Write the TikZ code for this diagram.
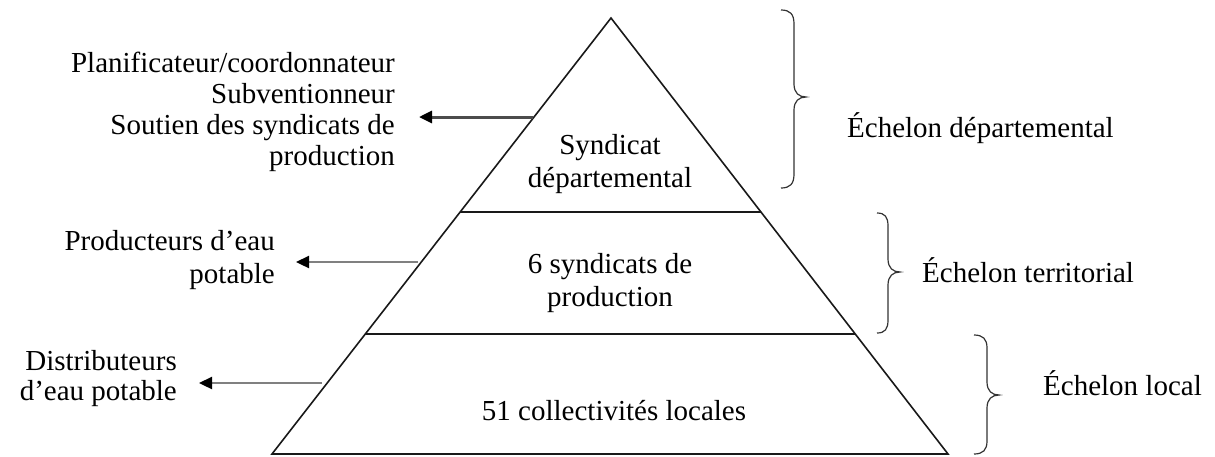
\documentclass[tikz,border=0pt]{standalone}
\usepackage{fontspec}
\setmainfont{Liberation Serif}
\usetikzlibrary{arrows.meta}
\begin{document}
\begin{tikzpicture}[x=1pt,y=-1pt,
  lbl/.style={font=\fontsize{29}{33}\selectfont, inner sep=0pt, text=black},
  pyr/.style={line width=1.6pt, black!90},
  arrthick/.style={line width=3pt, draw=black!70, -{Triangle[length=13pt,width=12pt,color=black]}},
  arrthin/.style={line width=2.3pt, draw=black!50, -{Triangle[length=13pt,width=12pt,color=black]}},
  brc/.style={line width=1.2pt, black!80}]
\useasboundingbox[fill=white] (0,0) rectangle (1215,456);
% pyramid
\coordinate (apex) at (611,18);
\coordinate (bl) at (272,454);
\coordinate (br) at (948,454);
\coordinate (l1) at (460,212);
\coordinate (r1) at (761,212);
\coordinate (l2) at (365,334);
\coordinate (r2) at (855,334);
\draw[pyr] (bl) -- (apex) -- (br) -- cycle;
\draw[pyr] (l1) -- (r1);
\draw[pyr] (l2) -- (r2);
% pyramid texts
\node[lbl, anchor=base] (s1) at (610,154) {Syndicat};
\node[lbl, anchor=base] (s2) at (610,187) {départemental};
\node[lbl, anchor=base] (t1) at (610,273) {6 syndicats de};
\node[lbl, anchor=base] (t2) at (610,306) {production};
\node[lbl, anchor=base] (c1) at (614,420) {51 collectivités locales};
% left texts
\node[lbl, anchor=base east] (p1) at (395,72) {Planificateur/coordonnateur};
\node[lbl, anchor=base east] (p2) at (395,103) {Subventionneur};
\node[lbl, anchor=base east] (p3) at (395,134) {Soutien des syndicats de};
\node[lbl, anchor=base east] (p4) at (395,165) {production};
\node[lbl, anchor=base east] (q1) at (275,250) {Producteurs d’eau};
\node[lbl, anchor=base east] (q2) at (275,283) {potable};
\node[lbl, anchor=base east] (d1) at (177,370) {Distributeurs};
\node[lbl, anchor=base east] (d2) at (177,400) {d’eau potable};
% arrows
\coordinate (a1s) at (533,117);
\coordinate (a1e) at (419,117);
\coordinate (a2s) at (418,262);
\coordinate (a2e) at (296,262);
\coordinate (a3s) at (322,383);
\coordinate (a3e) at (199,383);
\draw[arrthick] (a1s) -- (a1e);
\draw[arrthin] (a2s) -- (a2e);
\draw[arrthin] (a3s) -- (a3e);
% braces
\draw[brc] (781,10) .. controls (790,10) and (794,14) .. (794,24) -- (794,84)
  .. controls (794,93) and (799,97) .. (806,97)
  .. controls (799,97) and (794,101) .. (794,110) -- (794,174)
  .. controls (794,184) and (790,188) .. (781,188);
\draw[brc] (877,213) .. controls (885,213) and (888,217) .. (888,226) -- (888,259)
  .. controls (888,268) and (893,272) .. (900,272)
  .. controls (893,272) and (888,276) .. (888,285) -- (888,320)
  .. controls (888,329) and (885,333) .. (877,333);
\draw[brc] (974,335) .. controls (983,335) and (987,339) .. (987,348) -- (987,382)
  .. controls (987,391) and (992,395) .. (999,395)
  .. controls (992,395) and (987,399) .. (987,408) -- (987,441)
  .. controls (987,450) and (983,454) .. (974,454);
% right labels
\node[lbl, anchor=base west] (e1) at (847,137) {Échelon départemental};
\node[lbl, anchor=base west] (e2) at (922,282) {Échelon territorial};
\node[lbl, anchor=base west] (e3) at (1043,395) {Échelon local};
\end{tikzpicture}
\end{document}
